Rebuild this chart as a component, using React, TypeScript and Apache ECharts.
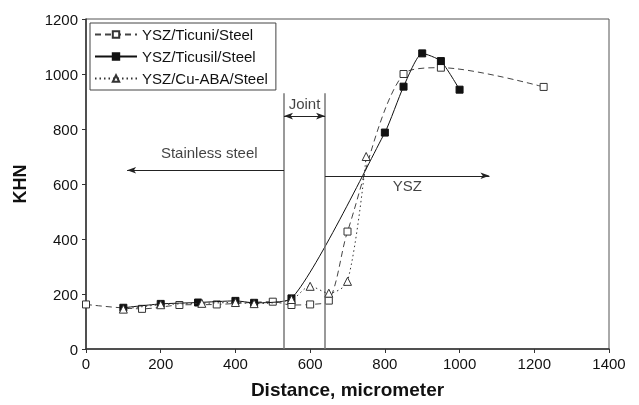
import React, { useEffect, useRef } from "react";
import * as echarts from "echarts";

const ticuniX = [0, 150, 250, 350, 500, 550, 600, 650, 700, 850, 950, 1225];
const ticuniY = [162, 146, 160, 162, 172, 160, 162, 176, 427, 1000, 1023, 953];

const ticusilX = [100, 200, 300, 400, 450, 550, 800, 850, 900, 950, 1000];
const ticusilY = [150, 164, 169, 175, 168, 184, 787, 954, 1075, 1047, 943];

const cuabaX = [100, 200, 310, 400, 450, 550, 600, 650, 700, 750];
const cuabaY = [145, 161, 166, 169, 165, 180, 228, 203, 246, 700];

const jointLines = [530, 640];
const jointTop = 930;

const xTicks = [0, 200, 400, 600, 800, 1000, 1200, 1400];
const yTicks = [0, 200, 400, 600, 800, 1000, 1200];

const zip = (xs: number[], ys: number[]) => xs.map((x, i) => [x, ys[i]]);

export default function App() {
  const ref = useRef<HTMLDivElement>(null);
  useEffect(() => {
    if (!ref.current) return;
    const chart = echarts.init(ref.current, null, { renderer: "svg" });
    const font = "Liberation Sans, Arial, sans-serif";
    const annLine = { color: "#222", width: 1.2, type: "solid" as const };
    chart.setOption({
      animation: false,
      textStyle: { fontFamily: font },
      grid: {
        left: 86,
        top: 19,
        right: 30,
        bottom: 56,
        show: true,
        borderColor: "#555",
        borderWidth: 1,
      },
      legend: {
        left: 90,
        top: 23,
        orient: "vertical",
        itemGap: 7,
        itemWidth: 42,
        itemHeight: 8,
        padding: [4, 8, 4, 4],
        borderColor: "#444",
        borderWidth: 1,
        textStyle: { fontSize: 15, color: "#111", fontFamily: font },
        data: ["YSZ/Ticuni/Steel", "YSZ/Ticusil/Steel", "YSZ/Cu-ABA/Steel"],
      },
      xAxis: {
        type: "value",
        min: 0,
        max: 1400,
        interval: 200,
        name: "Distance, micrometer",
        nameLocation: "middle",
        nameGap: 31,
        nameTextStyle: { fontSize: 19, fontWeight: "bold", color: "#111", fontFamily: font },
        axisLine: { lineStyle: { color: "#333", width: 1.5 } },
        axisTick: { show: true, length: 4, lineStyle: { color: "#333" } },
        axisLabel: { fontSize: 15, color: "#111", margin: 7, fontFamily: font,
          formatter: (v: number) => (xTicks.includes(v) ? String(v) : "") },
        splitLine: { show: false },
      },
      yAxis: {
        type: "value",
        min: 0,
        max: 1200,
        interval: 200,
        name: "KHN",
        nameLocation: "middle",
        nameGap: 57,
        nameTextStyle: { fontSize: 18, fontWeight: "bold", color: "#111", fontFamily: font },
        axisLine: { show: true, lineStyle: { color: "#333", width: 1.5 } },
        axisTick: { show: true, length: 4, lineStyle: { color: "#333" } },
        axisLabel: { fontSize: 15, color: "#111", margin: 8, fontFamily: font,
          formatter: (v: number) => (yTicks.includes(v) ? String(v) : "") },
        splitLine: { show: false },
      },
      series: [
        {
          name: "YSZ/Ticuni/Steel",
          type: "line",
          data: zip(ticuniX, ticuniY),
          smooth: 0.3,
          symbol: "rect",
          symbolSize: 7,
          itemStyle: { color: "#fff", borderColor: "#333", borderWidth: 1 },
          lineStyle: { color: "#444", width: 1, type: [6, 4] },
          z: 3,
        },
        {
          name: "YSZ/Ticusil/Steel",
          type: "line",
          data: zip(ticusilX, ticusilY),
          smooth: 0.2,
          symbol: "rect",
          symbolSize: 7,
          itemStyle: { color: "#111", borderColor: "#111", borderWidth: 1 },
          lineStyle: { color: "#111", width: 1 },
          z: 4,
        },
        {
          name: "YSZ/Cu-ABA/Steel",
          type: "line",
          data: zip(cuabaX, cuabaY),
          smooth: 0.3,
          symbol: "triangle",
          symbolSize: 8,
          itemStyle: { color: "#fff", borderColor: "#333", borderWidth: 1 },
          lineStyle: { color: "#333", width: 1, type: [1.5, 3] },
          z: 5,
        },
        {
          name: "annotations",
          type: "line",
          data: [],
          markLine: {
            silent: true,
            symbol: "none",
            label: { show: false },
            lineStyle: { color: "#777", width: 1.5, type: "solid" },
            data: [
              [{ coord: [jointLines[0], 0] }, { coord: [jointLines[0], jointTop] }],
              [{ coord: [jointLines[1], 0] }, { coord: [jointLines[1], jointTop] }],
              [
                { coord: [jointLines[0], 650], symbol: "none", lineStyle: annLine },
                { coord: [110, 650], symbol: "arrow", symbolSize: [5, 9], lineStyle: annLine },
              ],
              [
                { coord: [jointLines[1], 630], symbol: "none", lineStyle: annLine },
                { coord: [1080, 630], symbol: "arrow", symbolSize: [5, 9], lineStyle: annLine },
              ],
              [
                { coord: [jointLines[0], 847], symbol: "arrow", symbolSize: [5, 9], lineStyle: annLine },
                { coord: [jointLines[1], 847], symbol: "arrow", symbolSize: [5, 9], lineStyle: annLine },
              ],
            ],
          },
        },
        {
          name: "labels",
          type: "scatter",
          symbolSize: 0,
          silent: true,
          data: [
            { value: [330, 715], label: { formatter: "Stainless steel" } },
            { value: [585, 892], label: { formatter: "Joint" } },
            { value: [860, 596], label: { formatter: "YSZ" } },
          ],
          label: {
            show: true,
            position: "inside",
            fontSize: 15,
            color: "#111",
            fontFamily: font,
          },
        },
      ],
    });
    return () => chart.dispose();
  }, []);
  return (
    <div
      ref={ref}
      style={{ position: "fixed", left: 0, top: 0, width: 639, height: 405 }}
    />
  );
}
